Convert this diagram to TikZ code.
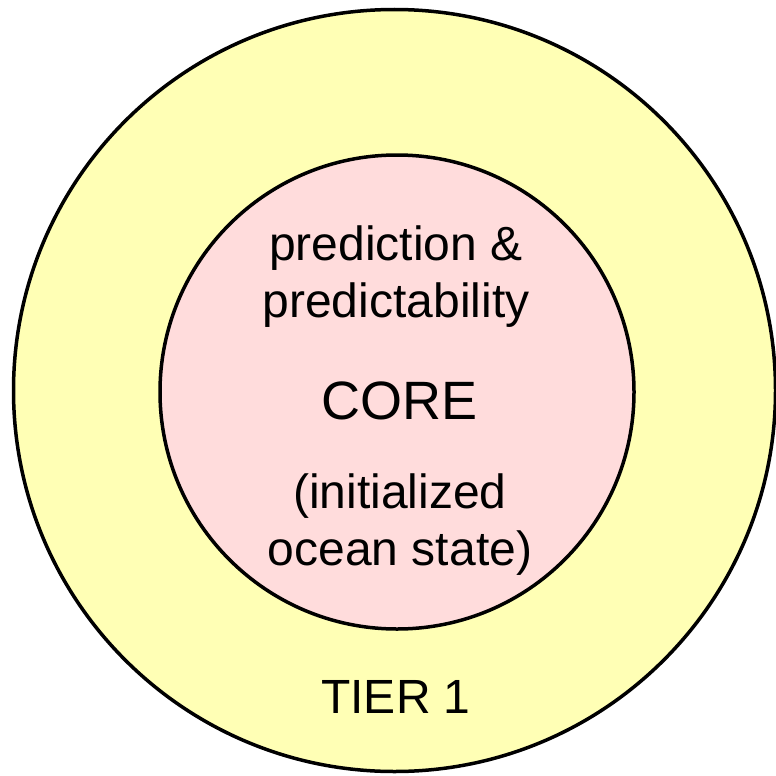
\documentclass[tikz,border=0pt]{standalone}
\usepackage{fontspec}
\setmainfont{Liberation Sans}
\usetikzlibrary{positioning}

\definecolor{tierfill}{RGB}{255,255,181}
\definecolor{corefill}{RGB}{255,220,220}

\tikzset{
  ring/.style={circle, draw=black, line width=3.5pt, inner sep=0pt},
  label text/.style={inner sep=0pt, align=center,
    font=\fontsize{48}{57}\selectfont},
}

\begin{document}
\begin{tikzpicture}[x=1pt, y=-1pt]
  \useasboundingbox (0,0) rectangle (776,776);
  % the two rings
  \node[ring, fill=tierfill, minimum size=762pt] (tier) at (394.5,390.5) {};
  \node[ring, fill=corefill, minimum size=474pt] (core) at (397,392) {};
  % texts (base = baseline of the last line)
  \node[label text, anchor=base] (pred) at (396,317) {prediction \&\\predictability};
  \node[label text, anchor=base, font=\fontsize{54}{64}\selectfont] (corelbl) at (400,419) {CORE};
  \node[label text, anchor=base] (init) at (400,565) {(initialized\\ocean state)};
  \node[label text, anchor=base] (tierlbl) at (396,713) {TIER 1};
\end{tikzpicture}
\end{document}
